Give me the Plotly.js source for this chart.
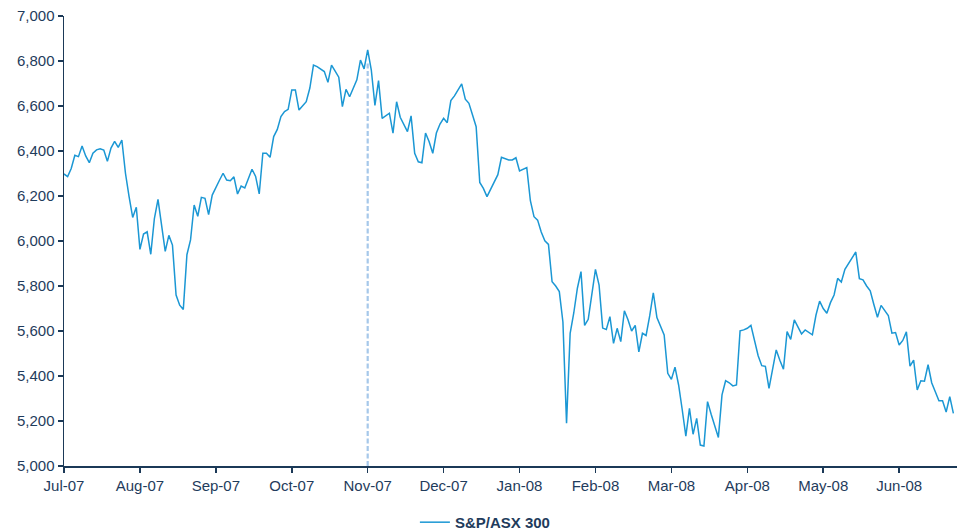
<!DOCTYPE html>
<html>
<head>
<meta charset="utf-8">
<script src="https://cdn.plot.ly/plotly-3.0.1.min.js"></script>
<style>
  html, body { margin: 0; padding: 0; background: #ffffff; }
  #chart { width: 965px; height: 532px; }
</style>
</head>
<body>
<div id="chart"></div>
<script>
// S&P/ASX 300 daily closing level, Jul-07 to Jun-08
const seriesName = 'S&P/ASX 300';
const indexValues = [
  6298, 6286, 6322, 6381, 6375, 6422, 6378, 6348, 6390, 6405,
  6410, 6404, 6354, 6413, 6443, 6416, 6449, 6301, 6197, 6105,
  6150, 5963, 6031, 6041, 5941, 6100, 6185, 6079, 5954, 6025,
  5982, 5760, 5715, 5696, 5939, 6005, 6160, 6110, 6194, 6190,
  6117, 6204, 6240, 6270, 6301, 6271, 6268, 6285, 6209, 6244,
  6236, 6279, 6319, 6287, 6209, 6390, 6390, 6372, 6464, 6496,
  6553, 6575, 6585, 6671, 6671, 6582, 6600, 6619, 6680, 6782,
  6775, 6765, 6753, 6705, 6782, 6755, 6728, 6597, 6674, 6641,
  6680, 6716, 6804, 6765, 6849, 6760, 6603, 6713, 6545, 6555,
  6568, 6479, 6619, 6550, 6518, 6486, 6556, 6390, 6352, 6348,
  6480, 6441, 6390, 6480, 6520, 6545, 6526, 6624, 6645, 6671,
  6698, 6630, 6612, 6560, 6508, 6260, 6234, 6197, 6230, 6260,
  6295, 6372, 6367, 6360, 6360, 6370, 6311, 6318, 6326, 6179,
  6108, 6093, 6040, 6001, 5985, 5819, 5800, 5775, 5640, 5190,
  5590, 5680, 5790, 5864, 5625, 5652, 5760, 5874, 5804, 5613,
  5607, 5664, 5545, 5612, 5553, 5690, 5650, 5600, 5625, 5507,
  5590, 5580, 5667, 5770, 5660, 5620, 5582, 5412, 5385, 5439,
  5360, 5250, 5133, 5256, 5141, 5212, 5093, 5089, 5286, 5230,
  5175, 5127, 5316, 5379, 5370, 5356, 5360, 5601, 5605, 5612,
  5625, 5560, 5490, 5446, 5443, 5345, 5430, 5516, 5470, 5430,
  5597, 5563, 5649, 5620, 5587, 5605, 5595, 5583, 5671, 5733,
  5700, 5679, 5726, 5760, 5834, 5818, 5874, 5900, 5925, 5951,
  5833, 5827, 5800, 5779, 5718, 5661, 5714, 5690, 5669, 5590,
  5593, 5538, 5558, 5596, 5444, 5471, 5338, 5379, 5377, 5450,
  5370, 5330, 5290, 5290, 5240, 5308, 5234
];
const monthLabels = ['Jul-07','Aug-07','Sep-07','Oct-07','Nov-07','Dec-07',
                     'Jan-08','Feb-08','Mar-08','Apr-08','May-08','Jun-08'];
const daysPerMonthTick = 21;
const markerMonth = 'Nov-07';
const markerLevel = 6790;
const yTicks = [5000, 5200, 5400, 5600, 5800, 6000, 6200, 6400, 6600, 6800, 7000];

const dayIndex = indexValues.map((_, i) => i);
const tickPositions = monthLabels.map((_, i) => i * daysPerMonthTick);
const markerX = monthLabels.indexOf(markerMonth) * daysPerMonthTick;

const axisColor = '#1b3957';
const textColor = '#1f3c5c';

const traces = [
  {
    x: [markerX, markerX],
    y: [yTicks[0], markerLevel],
    type: 'scatter',
    mode: 'lines',
    line: { color: '#a6c8ea', width: 2.2, dash: '5px,2.5px' },
    hoverinfo: 'skip',
    showlegend: false
  },
  {
    x: dayIndex,
    y: indexValues,
    type: 'scatter',
    mode: 'lines',
    name: seriesName,
    line: { color: '#1b97d4', width: 1.5 }
  }
];

const layout = {
  width: 965,
  height: 532,
  margin: { l: 64, r: 8, t: 16, b: 66 },
  paper_bgcolor: '#ffffff',
  plot_bgcolor: '#ffffff',
  font: { family: 'Liberation Sans, Arial, sans-serif', size: 15, color: textColor },
  showlegend: true,
  legend: {
    orientation: 'h',
    xref: 'container', x: 0.503, xanchor: 'center',
    yref: 'container', y: 0.018, yanchor: 'middle',
    itemwidth: 30,
    font: { family: 'Liberation Sans, Arial, sans-serif', size: 15, color: textColor, weight: 'bold' }
  },
  xaxis: {
    range: [0, indexValues.length],
    tickmode: 'array',
    tickvals: tickPositions,
    ticktext: monthLabels,
    ticks: 'outside',
    ticklen: 5,
    tickwidth: 1.5,
    tickcolor: axisColor,
    showline: true,
    linecolor: axisColor,
    linewidth: 1.5,
    showgrid: false,
    zeroline: false,
    fixedrange: true
  },
  yaxis: {
    range: [5000, 7000],
    tickmode: 'array',
    tickvals: yTicks,
    tickformat: ',d',
    ticks: 'outside',
    ticklen: 5,
    tickwidth: 1.5,
    tickcolor: axisColor,
    showline: true,
    linecolor: axisColor,
    linewidth: 1.5,
    showgrid: false,
    zeroline: false,
    fixedrange: true
  }
};

Plotly.newPlot('chart', traces, layout, { displayModeBar: false, staticPlot: true });
</script>
</body>
</html>
